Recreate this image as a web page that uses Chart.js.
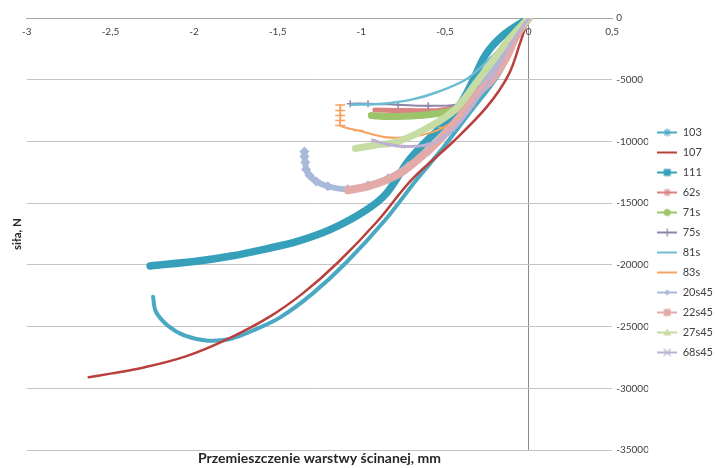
<!DOCTYPE html>
<html><head><meta charset="utf-8">
<script src="https://cdn.jsdelivr.net/npm/chart.js@4.4.1/dist/chart.umd.min.js"></script>
<style>html,body{margin:0;padding:0;background:#fff}</style>
</head><body>
<canvas id="c" width="715" height="468"></canvas>
<script>
// ---- data ----
const seriesNames = ['103','107','111','62s','71s','75s','81s','83s','20s45','22s45','27s45','68s45'];
const xTickValues = [-3,-2.5,-2,-1.5,-1,-0.5,0,0.5];
const yTickValues = [0,-5000,-10000,-15000,-20000,-25000,-30000,-35000];

const s103x = [0,-0.09,-0.18,-0.36,-0.52,-0.67,-0.86,-1.09,-1.29,-1.48,-1.63,-1.778,-1.916,-2.054,-2.156,-2.228,-2.245];
const s103y = [0,-2180,-4600,-7820,-10650,-13100,-16400,-19800,-22300,-24200,-25200,-25970,-26130,-25730,-24920,-23790,-22580];
const s107x = [0,-0.05,-0.12,-0.25,-0.45,-0.7,-0.9,-1.14,-1.35,-1.55,-1.8,-2.05,-2.3,-2.5,-2.63];
const s107y = [0,-2000,-4600,-7200,-10000,-13100,-16400,-19800,-22300,-24200,-26000,-27400,-28300,-28800,-29100];
const s111x = [0,-0.15,-0.257,-0.33,-0.41,-0.51,-0.63,-0.72,-0.85,-0.976,-1.18,-1.377,-1.575,-1.778,-1.976,-2.263];
const s111y = [0,-1370,-2980,-5000,-7020,-8630,-10240,-11600,-14200,-15600,-17100,-18065,-18710,-19275,-19680,-20080];
const s62sx = [0,-0.12,-0.24,-0.36,-0.51,-0.72,-0.92];
const s62sy = [0,-2180,-4600,-6610,-7420,-7500,-7450];
const s71sx = [0,-0.12,-0.24,-0.36,-0.48,-0.66,-0.84,-0.94];
const s71sy = [0,-2420,-5000,-6855,-7580,-7900,-7985,-7900];
const s75sx = [0,-0.11,-0.21,-0.31,-0.41,-0.60,-0.78,-0.96,-1.066];
const s75sy = [0,-1770,-3790,-5800,-6935,-7100,-7020,-6935,-6935];
const s81sx = [0,-0.15,-0.27,-0.377,-0.54,-0.70,-0.87,-1.06];
const s81sy = [0,-2180,-3790,-5000,-5970,-6610,-6935,-7020];
const s83sx = [0,-0.12,-0.27,-0.39,-0.51,-0.66,-0.838,-1.018,-1.126,-1.126,-1.126,-1.126,-1.126];
const s83sy = [0,-2420,-5400,-7580,-8870,-9520,-9680,-9110,-8710,-8310,-7900,-7500,-7050];
const s20s45x = [0,-0.09,-0.18,-0.27,-0.37,-0.48,-0.60,-0.72,-0.84,-0.96,-1.08,-1.20,-1.27,-1.31,-1.33,-1.335,-1.34,-1.34];
const s20s45y = [0,-1610,-3550,-5400,-7420,-9190,-10810,-12020,-12985,-13550,-13870,-13630,-13230,-12740,-12260,-11690,-11210,-10810];
const s22s45x = [0,-0.07,-0.14,-0.22,-0.30,-0.39,-0.46,-0.56,-0.66,-0.75,-0.84,-0.96,-1.08];
const s22s45y = [0,-1370,-3390,-5000,-6050,-7660,-8790,-10240,-11450,-12420,-13065,-13630,-13950];
const s27s45x = [0,-0.12,-0.21,-0.30,-0.44,-0.60,-0.78,-0.93,-1.036];
const s27s45y = [0,-1770,-3390,-5000,-7420,-8870,-10000,-10320,-10565];
const s68s45x = [0,-0.11,-0.21,-0.33,-0.45,-0.60,-0.75,-0.84,-0.93];
const s68s45y = [0,-2180,-4600,-7020,-9030,-10240,-10400,-10240,-9920];

const seriesX = [s103x,s107x,s111x,s62sx,s71sx,s75sx,s81sx,s83sx,s20s45x,s22s45x,s27s45x,s68s45x];
const seriesY = [s103y,s107y,s111y,s62sy,s71sy,s75sy,s81sy,s83sy,s20s45y,s22s45y,s27s45y,s68s45y];

// ---- styles ----
const styles = [
  {color:'#4aa8c2', width:4,   marker:'star',    r:0,   legendMarker:'star'},
  {color:'#b9403d', width:2.5, marker:'circle',  r:0,   legendMarker:null},
  {color:'#36a0bb', width:7.5, marker:'rect',    r:0,   legendMarker:'rect'},
  {color:'#d98482', width:5,   marker:'star',    r:0,   legendMarker:'star'},
  {color:'#9cc46b', width:7,   marker:'circle',  r:0,   legendMarker:'circle'},
  {color:'#8e84ab', width:2,   marker:'cross',   r:3.5, legendMarker:'cross'},
  {color:'#6cbdd1', width:2.5, marker:'circle',  r:0,   legendMarker:null},
  {color:'#f5a262', width:2,   marker:'line',    r:5,   legendMarker:null},
  {color:'#a9b9da', width:6,   marker:'rectRot', r:4,   legendMarker:'rectRot'},
  {color:'#e3aaa9', width:8,   marker:'rect',    r:0,   legendMarker:'rect'},
  {color:'#c6dca3', width:7,   marker:'triangle',r:0,   legendMarker:'triangle'},
  {color:'#bdb1d2', width:3,   marker:'crossRot',r:2.5, legendMarker:'crossRot'}
];

function makeIcon(st){
  const c = document.createElement('canvas');
  c.width = 20; c.height = 12;
  const g = c.getContext('2d');
  g.strokeStyle = st.color; g.fillStyle = st.color; g.lineWidth = 2;
  g.beginPath(); g.moveTo(0,6); g.lineTo(20,6); g.stroke();
  const m = st.legendMarker, cx = 10, cy = 6;
  g.lineWidth = 1.2;
  if (m === 'star') {
    for (let a = 0; a < 4; a++) { const t = a*Math.PI/4; g.beginPath(); g.moveTo(cx-4*Math.cos(t), cy-4*Math.sin(t)); g.lineTo(cx+4*Math.cos(t), cy+4*Math.sin(t)); g.stroke(); }
  } else if (m === 'rect') { g.fillRect(cx-3.5, cy-3.5, 7, 7);
  } else if (m === 'circle') { g.beginPath(); g.arc(cx,cy,3.5,0,Math.PI*2); g.fill();
  } else if (m === 'cross') { g.beginPath(); g.moveTo(cx-4,cy); g.lineTo(cx+4,cy); g.moveTo(cx,cy-4); g.lineTo(cx,cy+4); g.stroke();
  } else if (m === 'rectRot') { g.beginPath(); g.moveTo(cx,cy-3); g.lineTo(cx+3,cy); g.lineTo(cx,cy+3); g.lineTo(cx-3,cy); g.closePath(); g.fill();
  } else if (m === 'triangle') { g.beginPath(); g.moveTo(cx,cy-4); g.lineTo(cx+4,cy+3); g.lineTo(cx-4,cy+3); g.closePath(); g.fill();
  } else if (m === 'crossRot') { g.beginPath(); g.moveTo(cx-3.5,cy-3.5); g.lineTo(cx+3.5,cy+3.5); g.moveTo(cx+3.5,cy-3.5); g.lineTo(cx-3.5,cy+3.5); g.stroke(); }
  return c;
}
const icons = styles.map(makeIcon);

const datasets = seriesNames.map((name, i) => ({
  label: name,
  data: seriesX[i].map((x, k) => ({x: x, y: seriesY[i][k]})),
  borderColor: styles[i].color,
  backgroundColor: styles[i].color,
  borderWidth: styles[i].width,
  pointStyle: styles[i].marker,
  pointRadius: styles[i].r,
  pointBorderWidth: 1.5,
  pointBorderColor: styles[i].color,
  pointBackgroundColor: styles[i].color,
  tension: 0.35,
  borderCapStyle: 'round',
  borderJoinStyle: 'round',
  showLine: true,
  fill: false,
  order: seriesNames.length - i
}));

const FONT = 'Lato';
const fmt = v => String(v).replace('.', ',');

new Chart(document.getElementById('c'), {
  type: 'scatter',
  data: { datasets },
  options: {
    responsive: false,
    animation: false,
    layout: { padding: { left: 10, top: 18, right: -8, bottom: 1 } },
    plugins: {
      tooltip: { enabled: false },
      legend: {
        position: 'right',
        align: 'center',
        labels: {
          usePointStyle: true,
          pointStyleWidth: 20,
          boxHeight: 11,
          padding: 9,
          color: '#404040',
          font: { family: FONT, size: 11 },
          generateLabels(chart) {
            const items = Chart.defaults.plugins.legend.labels.generateLabels(chart);
            items.forEach(it => { it.pointStyle = icons[it.datasetIndex]; });
            return items.sort((a, b) => a.datasetIndex - b.datasetIndex);
          }
        }
      }
    },
    scales: {
      x: {
        type: 'linear',
        position: { y: 0 },
        min: -3, max: 0.5,
        afterBuildTicks: s => { s.ticks = xTickValues.map(v => ({ value: v })); },
        ticks: { callback: v => fmt(v), color: '#404040', font: { family: FONT, size: 10 }, padding: 8, maxRotation: 0 },
        grid: { drawTicks: false, lineWidth: 1, color: c => (c.tick && c.tick.value === 0) ? '#8c8c8c' : 'rgba(0,0,0,0)' },
        border: { display: true, color: '#a6a6a6', width: 1 }
      },
      y: {
        type: 'linear',
        position: 'right',
        min: -35000, max: 0,
        afterBuildTicks: s => { s.ticks = yTickValues.map(v => ({ value: v })); },
        afterFit: s => { s.width = 36; },
        ticks: { callback: v => String(v), color: '#404040', font: { family: FONT, size: 10 }, padding: 4 },
        grid: { drawTicks: false, color: '#c4c4c4', lineWidth: 1 },
        border: { display: false }
      },
      yL: {
        type: 'linear',
        position: 'left',
        min: -35000, max: 0,
        ticks: { display: false },
        grid: { display: false, drawTicks: false },
        border: { display: false },
        title: { display: true, text: 'siła, N', color: '#262626', font: { family: FONT, size: 11.5, weight: 'bold' }, padding: { top: 0, bottom: 3 } }
      },
      xB: {
        type: 'linear',
        position: 'bottom',
        min: -3, max: 0.5,
        ticks: { display: false },
        grid: { display: false, drawTicks: false },
        border: { display: false },
        title: { display: true, text: 'Przemieszczenie warstwy ścinanej, mm', color: '#262626', font: { family: FONT, size: 14, weight: 'bold' }, padding: { top: 0, bottom: 0 } }
      }
    }
  }
});
</script>
</body></html>
